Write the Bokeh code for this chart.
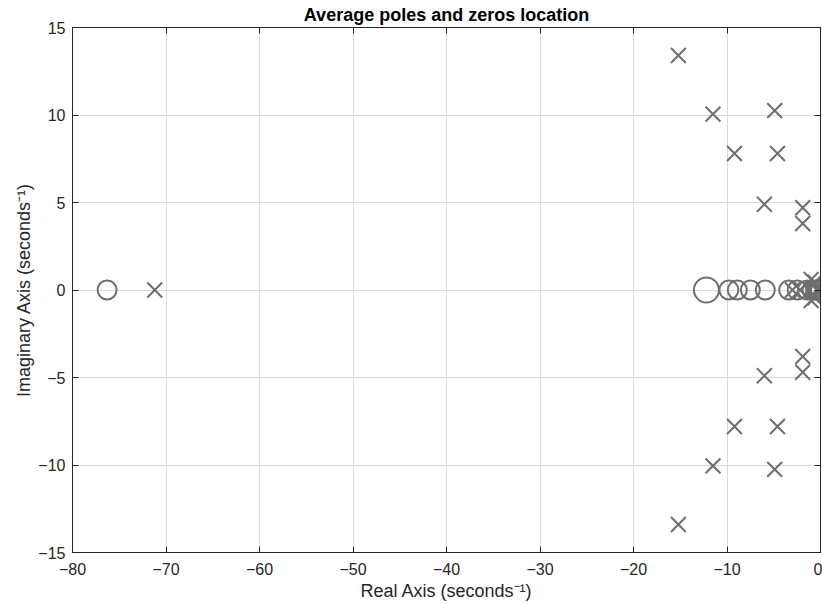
from bokeh.plotting import figure
from bokeh.models import FixedTicker, LinearAxis, Range1d
from bokeh.embed import file_html
from bokeh.resources import INLINE

# ---- data ----
x_ticks = [-80, -70, -60, -50, -40, -30, -20, -10, 0]
y_ticks = [-15, -10, -5, 0, 5, 10, 15]

zeros_re = [-76.3, -9.8, -8.9, -7.5, -5.9, -3.4, -2.5, -1.4, -0.9, -0.5,
            -0.35, -0.2, -0.1, -0.03, 0.0]
zeros_im = [0.0] * len(zeros_re)
double_zero_re = [-12.2]
double_zero_im = [0.0]

poles_re = [-15.2, -15.2, -11.5, -11.5, -4.9, -4.9, -9.2, -9.2, -4.6, -4.6,
            -6.0, -6.0, -1.9, -1.9, -1.9, -1.9, -71.2, -3.0, -2.2,
            -1.0, -1.0, -0.6, -0.6, -0.4, -0.25, -0.1, -0.02]
poles_im = [13.4, -13.4, 10.05, -10.05, 10.25, -10.25, 7.8, -7.8, 7.8, -7.8,
            4.9, -4.9, 4.7, -4.7, 3.8, -3.8, 0.0, 0.0, 0.0,
            0.6, -0.6, 0.45, -0.45, 0.0, 0.0, 0.0, 0.0]

FONT = "Liberation Sans"
MARK = "#6e6e6e"
DARK = "#262626"


def fmt(v):
    return str(v).replace("-", "\u2212")


p = figure(width=822, height=603,
           x_range=Range1d(-80, 0), y_range=Range1d(-15, 15),
           output_backend="svg", toolbar_location=None,
           title="Average poles and zeros location",
           min_border_left=72, min_border_right=2,
           min_border_top=27, min_border_bottom=50)

p.title.align = "center"
p.title.text_font = FONT
p.title.text_font_size = "18px"
p.title.text_font_style = "bold"
p.title.text_color = "black"
p.title.offset = 0
p.title.standoff = 5

p.outline_line_color = DARK
p.outline_line_width = 1
p.background_fill_color = "white"
p.border_fill_color = "white"

# axes
p.xaxis.ticker = FixedTicker(ticks=x_ticks)
p.yaxis.ticker = FixedTicker(ticks=y_ticks)
p.xaxis.major_label_overrides = {v: fmt(v) for v in x_ticks}
p.yaxis.major_label_overrides = {v: fmt(v) for v in y_ticks}
p.xaxis.axis_label = "Real Axis (seconds\u207b\u00b9)"
p.yaxis.axis_label = "Imaginary Axis (seconds\u207b\u00b9)"
for ax in (p.xaxis[0], p.yaxis[0]):
    ax.axis_line_color = DARK
    ax.major_tick_in = 6
    ax.major_tick_out = 0
    ax.major_tick_line_color = DARK
    ax.minor_tick_line_color = None
    ax.major_label_text_font = FONT
    ax.major_label_text_font_size = "16px"
    ax.major_label_text_color = DARK
    ax.axis_label_text_font = FONT
    ax.axis_label_text_font_size = "18px"
    ax.axis_label_text_font_style = "normal"
    ax.axis_label_text_color = DARK
p.xaxis.major_label_standoff = 10
p.xaxis.axis_label_standoff = 3
p.yaxis.major_label_standoff = 7
p.yaxis.axis_label_standoff = 1

for loc in ("above", "right"):
    ticks = x_ticks if loc == "above" else y_ticks
    ax = LinearAxis(ticker=FixedTicker(ticks=ticks))
    ax.major_label_overrides = {v: "" for v in ticks}
    ax.major_label_standoff = 0
    ax.major_tick_in = 6
    ax.major_tick_out = 0
    ax.minor_tick_line_color = None
    ax.axis_line_color = DARK
    ax.major_tick_line_color = DARK
    p.add_layout(ax, loc)

p.xgrid.ticker = FixedTicker(ticks=x_ticks)
p.ygrid.ticker = FixedTicker(ticks=y_ticks)
p.grid.grid_line_color = "#dadada"
p.grid.grid_line_width = 1

# markers
p.scatter(zeros_re, zeros_im, marker="circle", size=19, fill_color=None,
          line_color=MARK, line_width=2)
p.scatter(double_zero_re, double_zero_im, marker="circle", size=25, fill_color=None,
          line_color=MARK, line_width=2)
p.scatter(poles_re, poles_im, marker="x", size=21,
          line_color=MARK, line_width=2)

open("out.html", "w").write(file_html(p, INLINE))
